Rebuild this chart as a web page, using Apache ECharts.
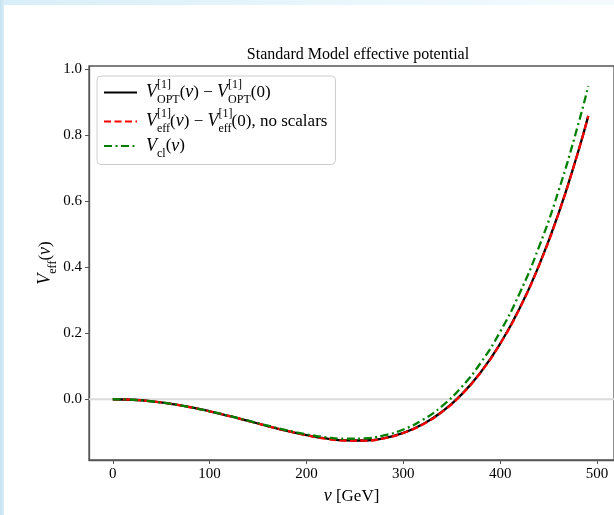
<!DOCTYPE html>
<html>
<head>
<meta charset="utf-8">
<script src="https://cdn.jsdelivr.net/npm/echarts@6/dist/echarts.min.js"></script>
<style>
  html, body { margin: 0; padding: 0; }
  body {
    width: 614px; height: 515px; position: relative; overflow: hidden;
    background: linear-gradient(90deg, #c6e2f1 0px, #d8eef8 4px, #eaf7fc 60%, #f4fbfe 100%);
  }
  #paper { position: absolute; left: 4px; top: 5px; right: 0; bottom: 0; background: #fff; }
  #chart { position: absolute; left: 0; top: 0; width: 614px; height: 515px; }
</style>
</head>
<body>
<div id="paper"></div>
<div id="chart"></div>
<script>
// v in GeV
const vValues = [0, 20, 40, 60, 80, 100, 120, 140, 160, 180, 200, 220, 240,
  260, 280, 300, 320, 340, 360, 380, 400, 420, 440, 460, 480, 491];

// one-loop OPT potential (black) and effective potential without scalars (red)
const vOpt = [0, -0.0016, -0.0063, -0.0139, -0.0242, -0.0366, -0.0507, -0.0658,
  -0.0811, -0.0957, -0.1087, -0.1188, -0.1248, -0.1250, -0.1180, -0.1020,
  -0.0760, -0.0380, 0.0140, 0.0820, 0.1680, 0.2745, 0.4045, 0.5600, 0.7440, 0.8580];
const vEff = [0, -0.0016, -0.0063, -0.0140, -0.0243, -0.0367, -0.0508, -0.0660,
  -0.0813, -0.0959, -0.1090, -0.1191, -0.1251, -0.1253, -0.1183, -0.1023,
  -0.0763, -0.0383, 0.0137, 0.0817, 0.1677, 0.2742, 0.4042, 0.5597, 0.7437, 0.8577];
// classical potential (green)
const vCl = [0, -0.0016, -0.0063, -0.0139, -0.0240, -0.0364, -0.0503, -0.0651,
  -0.0801, -0.0941, -0.1062, -0.1152, -0.1197, -0.1184, -0.1095, -0.0915,
  -0.0625, -0.0206, 0.0364, 0.1106, 0.2044, 0.3201, 0.4604, 0.6281, 0.8258, 0.9484];

const xTicks = [0, 100, 200, 300, 400, 500];
const yTicks = [0, 0.2, 0.4, 0.6, 0.8, 1.0];

const xMin = -24.55, xMax = 517.55;
const yMin = -0.184, yMax = 1.009;

const pairs = (ys) => vValues.map((v, i) => [v, ys[i]]);

const serif = '"Liberation Serif", "DejaVu Serif", serif';
const mathRich = {
  i: { fontFamily: serif, fontStyle: 'italic', fontSize: 18, color: '#000', lineHeight: 27, verticalAlign: 'middle' },
  n: { fontFamily: serif, fontSize: 17, color: '#000', lineHeight: 27, verticalAlign: 'middle' },
  up: { fontFamily: serif, fontSize: 12, color: '#000', lineHeight: 27, verticalAlign: 'top', width: 0 },
  sub: { fontFamily: serif, fontSize: 12, color: '#000', lineHeight: 24, verticalAlign: 'bottom' },
  lo: { fontFamily: serif, fontSize: 12, color: '#000', lineHeight: 22, verticalAlign: 'bottom' }
};

const legendText = {
  opt: '{i|V}{up|[1]}{sub|OPT}{n|(}{i|v}{n|) − }{i|V}{up|[1]}{sub|OPT}{n|(0)}',
  eff: '{i|V}{up|[1]}{sub|eff}{n|(}{i|v}{n|) − }{i|V}{up|[1]}{sub|eff}{n|(0), no scalars}',
  cl: '{i|V}{lo|cl}{n|(}{i|v}{n|)}'
};

const chart = echarts.init(document.getElementById('chart'));

chart.setOption({
  animation: false,
  title: {
    text: 'Standard Model effective potential',
    left: 353,
    top: 42,
    textAlign: 'center',
    textStyle: { fontFamily: serif, fontSize: 16, fontWeight: 'normal', color: '#000' }
  },
  grid: {
    left: 89, top: 66, right: -3, bottom: 55,
    show: true, borderColor: '#555', borderWidth: 1.3, backgroundColor: 'transparent'
  },
  legend: {
    orient: 'vertical',
    left: 97,
    top: 76,
    data: ['opt', 'eff', 'cl'],
    formatter: (name) => legendText[name],
    itemWidth: 33,
    itemHeight: 10,
    itemGap: 2,
    padding: [3, 8, 5, 6],
    itemStyle: { opacity: 0 },
    backgroundColor: 'rgba(255,255,255,0.85)',
    borderColor: '#cccccc',
    borderWidth: 1,
    borderRadius: 4,
    textStyle: { rich: mathRich, padding: [0, 0, 0, 4] }
  },
  xAxis: {
    type: 'value',
    min: xMin,
    max: xMax,
    name: '{i|v}{n| [GeV]}',
    nameLocation: 'middle',
    nameGap: 23,
    nameMoveOverlap: false,
    nameTextStyle: { rich: mathRich },
    splitLine: { show: false },
    axisLine: { onZero: false, lineStyle: { color: '#555', width: 1.3 } },
    axisTick: { customValues: xTicks, length: 4, lineStyle: { color: '#555', width: 1 } },
    axisLabel: { customValues: xTicks, margin: 7, fontFamily: serif, fontSize: 15, color: '#000' }
  },
  yAxis: {
    type: 'value',
    min: yMin,
    max: yMax,
    name: '{i|V}{lo|eff}{n|(}{i|v}{n|)}',
    nameLocation: 'middle',
    nameRotate: 90,
    nameGap: 30,
    nameMoveOverlap: false,
    nameTextStyle: { rich: mathRich },
    splitLine: { show: false },
    axisLine: { onZero: false, lineStyle: { color: '#555', width: 1.3 } },
    axisTick: { customValues: yTicks, length: 4, lineStyle: { color: '#555', width: 1 } },
    axisLabel: {
      customValues: yTicks, margin: 7, fontFamily: serif, fontSize: 15, color: '#000',
      formatter: (val) => val.toFixed(1)
    }
  },
  series: [
    {
      name: 'zero',
      type: 'line',
      data: [[xMin, 0], [xMax, 0]],
      symbol: 'none',
      silent: true,
      lineStyle: { color: '#dcdcdc', width: 2 },
      z: 1
    },
    {
      name: 'opt',
      type: 'line',
      data: pairs(vOpt),
      symbol: 'none',
      smooth: 0.5,
      color: '#000000',
      lineStyle: { color: '#000000', width: 2.3 },
      z: 2
    },
    {
      name: 'eff',
      type: 'line',
      data: pairs(vEff),
      symbol: 'none',
      smooth: 0.5,
      color: '#ff0000',
      lineStyle: { color: '#ff0000', width: 2.3, type: [7, 3.5] },
      z: 3
    },
    {
      name: 'cl',
      type: 'line',
      data: pairs(vCl),
      symbol: 'none',
      smooth: 0.5,
      color: '#008000',
      lineStyle: { color: '#008000', width: 2.3, type: [8, 3.5, 2, 3.5] },
      z: 4
    }
  ]
});
</script>
</body>
</html>
